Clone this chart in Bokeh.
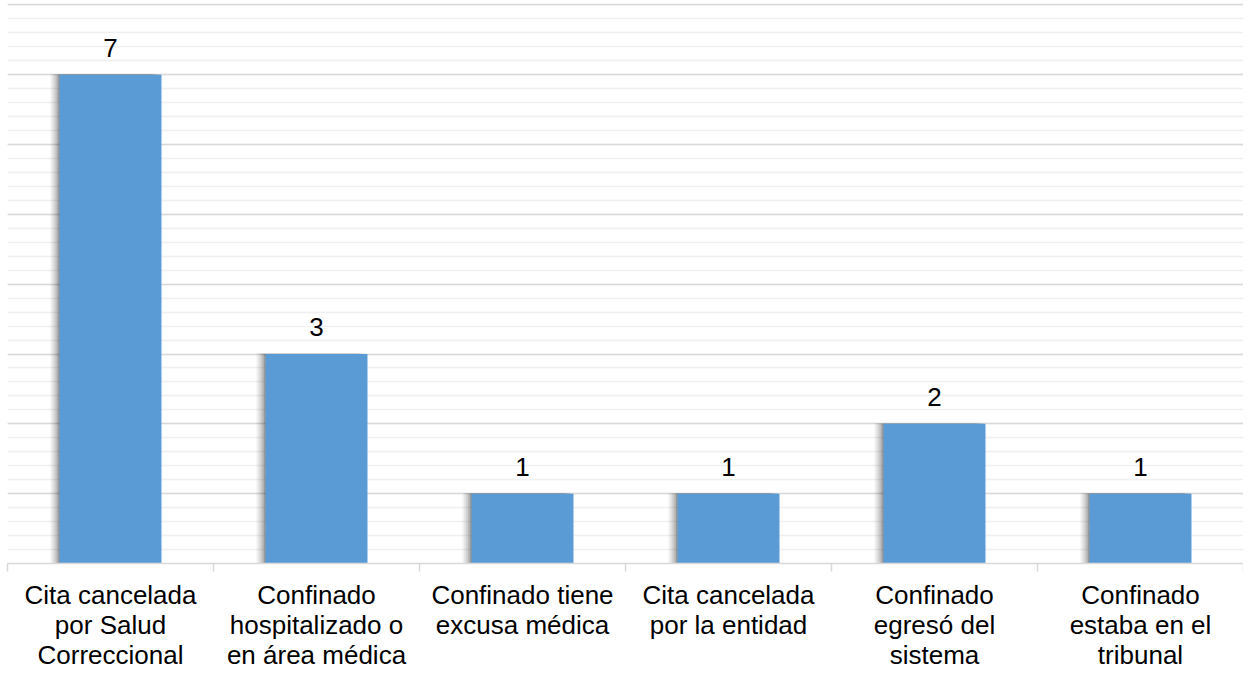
from bokeh.plotting import figure
from bokeh.models import ColumnDataSource, FixedTicker, Range1d
from bokeh.core.properties import value
from bokeh.embed import file_html
from bokeh.resources import INLINE

categories = [
    "Cita cancelada\npor Salud\nCorreccional",
    "Confinado\nhospitalizado o\nen área médica",
    "Confinado tiene\nexcusa médica",
    "Cita cancelada\npor la entidad",
    "Confinado\negresó del\nsistema",
    "Confinado\nestaba en el\ntribunal",
]
values = [7, 3, 1, 1, 2, 1]

xs = [i + 0.5 for i in range(len(categories))]
src = ColumnDataSource(dict(x=xs, top=values, label=[str(v) for v in values]))

p = figure(width=1243, height=672, output_backend="svg", toolbar_location=None,
           x_range=Range1d(0, len(categories)), y_range=Range1d(0, 8.02),
           min_border_left=7, min_border_right=0, min_border_top=3, min_border_bottom=0)
p.outline_line_color = None
p.background_fill_color = "white"
p.border_fill_color = "white"

# soft shadow layers (left/top of each bar)
for off, a in [(0.045, 0.05), (0.035, 0.07), (0.025, 0.09), (0.015, 0.12), (0.007, 0.15)]:
    p.vbar(x=[x - off for x in xs], top=[v + off * 0.25 for v in values], bottom=0,
           width=0.495, fill_color="black", fill_alpha=a, line_color=None)

p.vbar(x="x", top="top", bottom=0, width=0.495, source=src,
       fill_color="#5B9BD5", line_color=None)

p.text(x="x", y="top", text="label", source=src, text_align="center",
       text_baseline="alphabetic", y_offset=-27, text_font_size="26px",
       text_font=value("Liberation Sans"), text_color="#000000")

# axes
p.yaxis.visible = False
p.xgrid.visible = False
p.ygrid.ticker = FixedTicker(ticks=list(range(0, 9)),
                             minor_ticks=[round(i * 0.2, 1) for i in range(0, 41)])
p.ygrid.grid_line_color = "#d9d9d9"
p.ygrid.grid_line_width = 1.5
p.ygrid.minor_grid_line_color = "#f0f0f0"
p.ygrid.minor_grid_line_width = 1.5

xa = p.xaxis[0]
xa.ticker = FixedTicker(ticks=xs, minor_ticks=list(range(0, len(categories) + 1)))
xa.major_label_overrides = {x: c for x, c in zip(xs, categories)}
xa.major_tick_in = 0
xa.major_tick_out = 0
xa.minor_tick_in = 0
xa.minor_tick_out = 8
xa.minor_tick_line_color = "#d9d9d9"
xa.minor_tick_line_width = 1.5
xa.axis_line_color = "#d9d9d9"
xa.axis_line_width = 1.5
xa.major_label_text_font = "Liberation Sans"
xa.major_label_text_font_size = "26px"
xa.major_label_text_color = "#000000"
xa.major_label_standoff = 8
xa.major_label_text_line_height = 1.0

open("out.html", "w").write(file_html(p, INLINE))
